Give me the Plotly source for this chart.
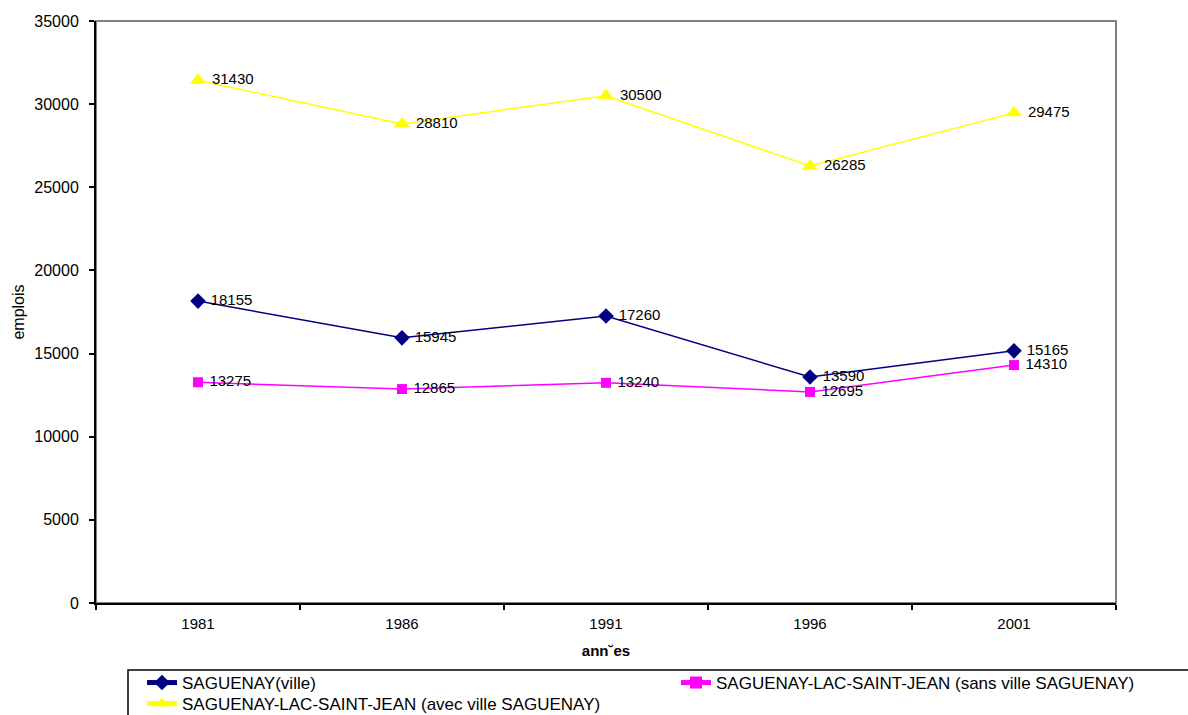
import plotly.graph_objects as go

# Employment by census year, Saguenay region
years = ["1981", "1986", "1991", "1996", "2001"]
saguenay_ville = [18155, 15945, 17260, 13590, 15165]
slsj_sans_ville = [13275, 12865, 13240, 12695, 14310]
slsj_avec_ville = [31430, 28810, 30500, 26285, 29475]

series = [
    ("SAGUENAY(ville)", saguenay_ville, "#000080", "diamond", 12, "legend"),
    ("SAGUENAY-LAC-SAINT-JEAN (sans ville SAGUENAY)", slsj_sans_ville, "#FF00FF", "square", 10, "legend2"),
    ("SAGUENAY-LAC-SAINT-JEAN (avec ville SAGUENAY)", slsj_avec_ville, "#FFFF00", "triangle-up", 14, "legend3"),
]

W, H = 1188, 715
L, R, T, B = 96, 72, 21, 112
pw, ph = W - L - R, H - T - B


def px_x(x):
    return (x - L) / pw


def px_y(y):
    return (H - B - y) / ph


font = "Liberation Sans, Arial"

fig = go.Figure()
for name, vals, color, symbol, size, leg in series:
    fig.add_trace(go.Scatter(
        x=years, y=vals, name=name, mode="lines+markers+text",
        line=dict(color=color, width=1.5),
        marker=dict(symbol=symbol, size=size, color=color),
        text=[" " + str(v) for v in vals], textposition="middle right",
        textfont=dict(family=font, size=15, color="black"),
        cliponaxis=False, legend=leg,
    ))

legend_common = dict(
    orientation="v", xanchor="left", yanchor="top",
    font=dict(family=font, size=17, color="black"),
    bgcolor="rgba(0,0,0,0)", borderwidth=0,
    tracegroupgap=0, itemsizing="constant",
)

fig.update_layout(
    width=W, height=H,
    margin=dict(l=L, r=R, t=T, b=B, autoexpand=False),
    paper_bgcolor="white", plot_bgcolor="white",
    font=dict(family=font, size=15, color="black"),
    showlegend=True,
    legend=dict(x=px_x(142), y=px_y(665), **legend_common),
    legend2=dict(x=px_x(676), y=px_y(665), **legend_common),
    legend3=dict(x=px_x(142), y=px_y(686), **legend_common),
    xaxis=dict(
        type="category", range=[-0.5, 4.5], tickson="boundaries", ticks="outside", ticklen=5,
        tickcolor="black", tickwidth=1.5, showline=True, linecolor="black", linewidth=2,
        showgrid=False, zeroline=False, ticklabelstandoff=6,
        tickfont=dict(family=font, size=15),
        title=dict(text="<b>ann˘es</b>", font=dict(family=font, size=15), standoff=14),
    ),
    yaxis=dict(
        range=[0, 35000], dtick=5000, ticks="outside", ticklen=5,
        tickcolor="black", tickwidth=1.5, showline=True, linecolor="black", linewidth=2,
        showgrid=False, zeroline=False, tickformat="d", ticklabelstandoff=7,
        tickfont=dict(family=font, size=16),
        title=dict(text="emplois", font=dict(family=font, size=16), standoff=6),
    ),
    shapes=[
        # gray frame around the plotting area
        dict(type="rect", xref="paper", yref="paper", x0=0, x1=1, y0=0, y1=1,
             line=dict(color="#808080", width=2), layer="below"),
        # legend box
        dict(type="rect", xref="paper", yref="paper",
             x0=px_x(128), x1=px_x(1200), y0=px_y(670), y1=px_y(722),
             line=dict(color="black", width=1.5)),
    ],
)

fig.write_html("out.html")
